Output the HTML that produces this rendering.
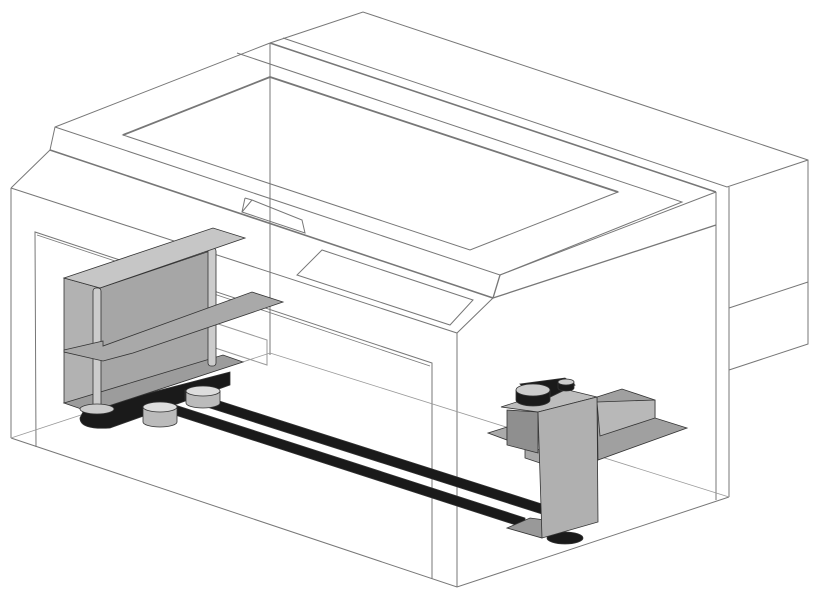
<!DOCTYPE html>
<html><head><meta charset="utf-8"><style>html,body{margin:0;padding:0;background:#fff}svg{display:block}</style></head>
<body>
<svg width="820" height="600" viewBox="0 0 820 600" xmlns="http://www.w3.org/2000/svg">
<g fill="none" stroke="#777" stroke-width="1">
<polyline points="270,43 363,12 808,160 808,344 729,370"/>
<line x1="808" y1="282" x2="729" y2="308"/>
<polyline points="283,38 727,187 808,160"/>
<line x1="729" y1="187" x2="729" y2="497"/>
<line x1="716" y1="192" x2="716" y2="500"/>
<polyline points="11,188 50,150 55,127 270,43"/>
<line x1="270" y1="43" x2="716" y2="192" stroke-width="1.6"/>
<polyline points="237,53 682,202 500,275"/>
<polyline points="55,127 500,275 716,192"/>
<polyline points="500,275 493,298 716,225" stroke-width="1.3"/>
<line x1="50" y1="150" x2="493" y2="298" stroke-width="1.6"/>
<polygon points="123,135 270,77 618,192 470,250"/>
<polyline points="123,135 270,77 618,192" stroke-width="1.8"/>
<polyline points="245,198 252,200 242,212 305,233 302,220 252,200"/>
<line x1="245" y1="198" x2="242" y2="212"/>
<polygon points="322,250 297,275 450,325 473,300"/>
<line x1="11" y1="188" x2="11" y2="438"/>
<polyline points="11,188 457,333 493,298"/>
<line x1="457" y1="333" x2="457" y2="587"/>
<polyline points="11,438 457,587 729,497"/>
<line x1="270" y1="43" x2="270" y2="355"/>
<polyline points="36,447 35,232 432,363 432,579"/>
<line x1="37" y1="235" x2="430" y2="366" stroke-width="0.8"/>
<g stroke="#999" stroke-width="0.8">
<line x1="11" y1="438" x2="270" y2="353"/>
<line x1="270" y1="353" x2="729" y2="497"/>
</g>
<polygon points="200,318 267,340 267,365 200,343" stroke="#999"/>
</g>

<!-- left mechanism -->
<g stroke="#333" stroke-width="0.8">
<!-- belt loop under -->
<path d="M84,410 L230,372 L230,385 L110,428 Q80,430 80,418 Z" fill="#1a1a1a"/>
<!-- back face -->
<polygon points="100,288 213,250 213,365 100,402" fill="#a6a6a6"/>
<!-- end face -->
<polygon points="64,278 100,288 100,402 64,403" fill="#b2b2b2"/>
<!-- bottom plate -->
<polygon points="64,403 223,355 243,362 90,412" fill="#9c9c9c"/>
<!-- rods -->
<rect x="93" y="288" width="8" height="120" fill="#ccc" rx="3"/>
<rect x="208" y="248" width="8" height="118" fill="#ccc" rx="3"/>
<!-- middle shelf -->
<polygon points="64,350 103,341 103,346 252,292 283,302 133,353 103,361 64,352" fill="#a9a9a9"/>
<!-- top plate -->
<polygon points="64,278 213,228 245,238 100,288" fill="#c6c6c6"/>
<ellipse cx="97" cy="409" rx="17" ry="5" fill="#ccc"/>
<!-- long belts -->
<polygon points="185,390 545,505 545,515 185,400" fill="#1a1a1a"/>
<polygon points="175,405 525,518 525,528 175,415" fill="#1a1a1a"/>
<path d="M186,391 v12 a17,5 0 0 0 34,0 v-12 z" fill="#bbb"/>
<ellipse cx="203" cy="391" rx="17" ry="5" fill="#ddd"/>
<path d="M143,407 v15 a17,5 0 0 0 34,0 v-15 z" fill="#bbb"/>
<ellipse cx="160" cy="407" rx="17" ry="5" fill="#ddd"/>
</g>

<!-- right carriage -->
<g stroke="#333" stroke-width="0.8">
<polygon points="597,397 622,389 655,400 655,418 687,428 598,460" fill="#a0a0a0"/>
<polygon points="597,402 655,400 655,418 600,436" fill="#b8b8b8"/>
<polygon points="488,433 507,427 507,440" fill="#aaa"/>
<polygon points="525,445 540,450 540,463 525,458" fill="#aaa"/>
<polygon points="507,410 538,412 538,453 507,445" fill="#8f8f8f"/>
<polygon points="501,407 560,388 597,397 538,412" fill="#bdbdbd"/>
<ellipse cx="565" cy="538" rx="18" ry="6" fill="#1a1a1a"/>
<polygon points="507,528 530,518 560,522 542,538" fill="#999"/>
<polygon points="538,412 597,397 598,522 542,538" fill="#b0b0b0"/>
<path d="M520,384 L565,378 L575,385 L540,402 Z" fill="#1a1a1a"/>
<path d="M516,390 v10 a17,6 0 0 0 34,0 v-10 z" fill="#1a1a1a"/>
<ellipse cx="533" cy="390" rx="17" ry="6" fill="#ccc"/>
<path d="M558,383 v5 a8,3 0 0 0 16,0 v-5 z" fill="#1a1a1a"/>
<ellipse cx="566" cy="382" rx="8" ry="3" fill="#ccc"/>
</g>
</svg>
</body></html>
